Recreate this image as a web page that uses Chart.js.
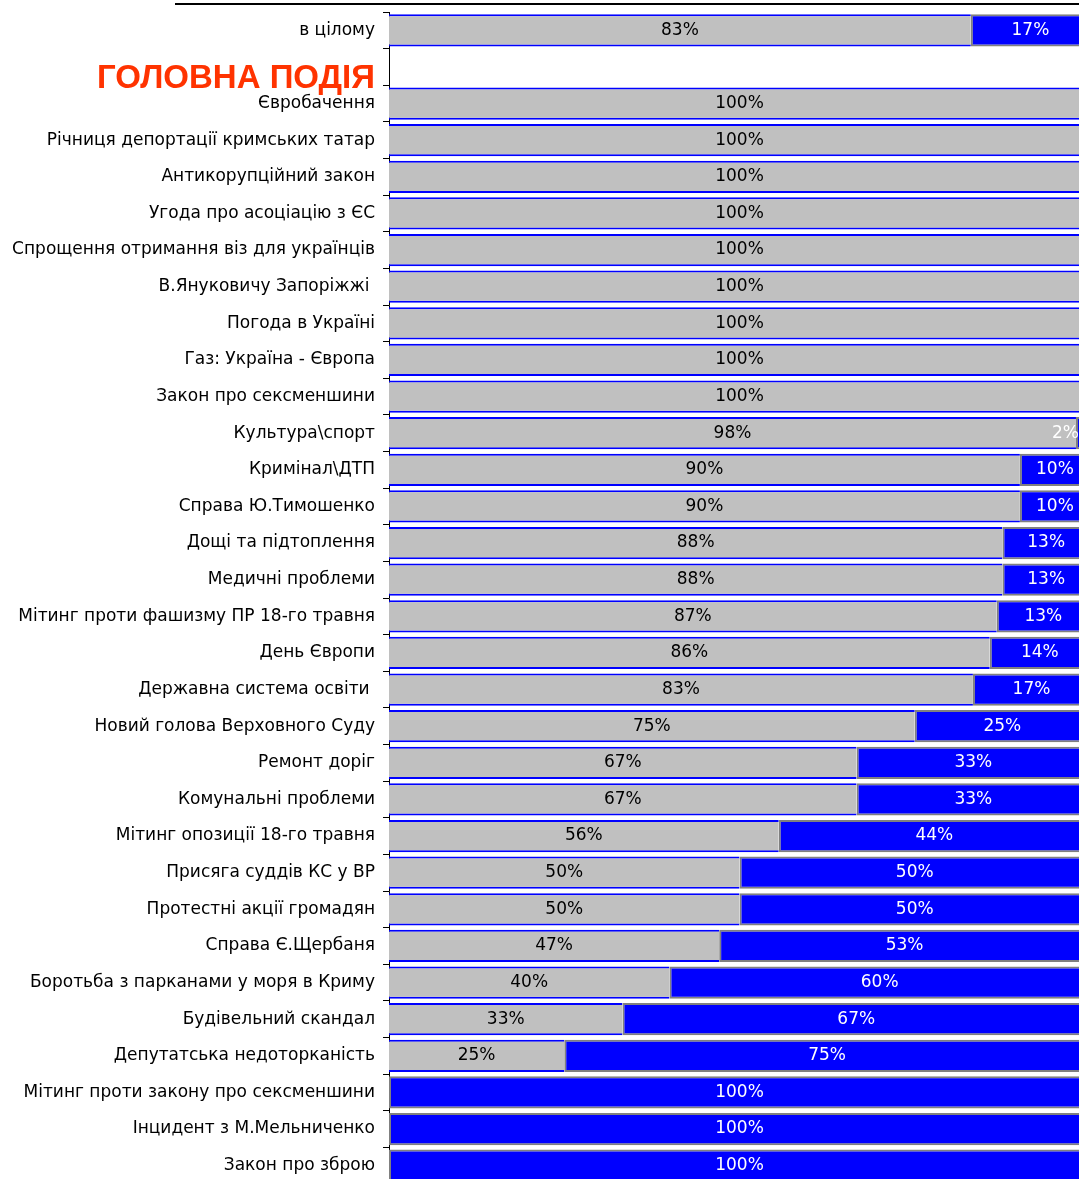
<!DOCTYPE html>
<html>
<head>
<meta charset="utf-8">
<script src="https://cdn.jsdelivr.net/npm/chart.js@4"></script>
<style>
  html, body { margin: 0; padding: 0; background: #fff; overflow: hidden; }
  #wrap { width: 1090px; height: 1184px; position: relative; }
</style>
</head>
<body>
<div id="wrap"><canvas id="fig_container"></canvas></div>
<script>
const categories = [
    "в цілому",
    "ГОЛОВНА ПОДІЯ",
    "Євробачення",
    "Річниця депортації кримських татар",
    "Антикорупційний закон",
    "Угода про асоціацію з ЄС",
    "Спрощення отримання віз для українців",
    "В.Януковичу Запоріжжі ",
    "Погода в Україні",
    "Газ: Україна - Європа",
    "Закон про сексменшини",
    "Культура\\спорт",
    "Кримінал\\ДТП",
    "Справа Ю.Тимошенко",
    "Дощі та підтоплення",
    "Медичні проблеми",
    "Мітинг проти фашизму ПР 18-го травня",
    "День Європи",
    "Державна система освіти ",
    "Новий голова Верховного Суду",
    "Ремонт доріг",
    "Комунальні проблеми",
    "Мітинг опозиції 18-го травня",
    "Присяга суддів КС у ВР",
    "Протестні акції громадян",
    "Справа Є.Щербаня",
    "Боротьба з парканами у моря в Криму",
    "Будівельний скандал",
    "Депутатська недоторканість",
    "Мітинг проти закону про сексменшини",
    "Інцидент з М.Мельниченко",
    "Закон про зброю"
];

const grayValues = [83, null, 100, 100, 100, 100, 100, 100, 100, 100, 100, 98, 90, 90, 87.5, 87.5,
    86.7, 85.7, 83.3, 75, 66.7, 66.7, 55.6, 50, 50, 47.1, 40, 33.3, 25, 0, 0, 0];
const blueValues = [17, null, 0, 0, 0, 0, 0, 0, 0, 0, 0, 2, 10, 10, 12.5, 12.5,
    13.3, 14.3, 16.7, 25, 33.3, 33.3, 44.4, 50, 50, 52.9, 60, 66.7, 75, 100, 100, 100];

const headerIndex = 1;
const labelFont = "'DejaVu Sans', sans-serif";

const decorations = {
    id: 'decorations',
    afterDraw(chart) {
        const ctx = chart.ctx;
        const y = chart.scales.y;
        ctx.save();
        // top rule
        ctx.fillStyle = '#000';
        ctx.fillRect(175, 3, chart.width, 2);
        // section header
        ctx.font = "bold 33px 'Liberation Sans', Arial, sans-serif";
        ctx.fillStyle = '#FF3300';
        ctx.textAlign = 'right';
        ctx.textBaseline = 'middle';
        ctx.fillText(categories[headerIndex], 375, y.getPixelForValue(headerIndex) + 12);
        ctx.restore();
    }
};

const barLabels = {
    id: 'barLabels',
    afterDatasetsDraw(chart) {
        const ctx = chart.ctx;
        const visibleRight = document.documentElement.clientWidth;
        ctx.save();
        ctx.font = "17px " + labelFont;
        ctx.textAlign = 'center';
        ctx.textBaseline = 'middle';
        chart.data.datasets.forEach((ds, di) => {
            const meta = chart.getDatasetMeta(di);
            meta.data.forEach((bar, i) => {
                const v = ds.data[i];
                if (!v) return;
                const text = Math.round(v) + '%';
                const w = ctx.measureText(text).width;
                let x = (bar.x + bar.base) / 2;
                x = Math.min(x, visibleRight - w / 2);
                ctx.fillStyle = di === 0 ? '#000' : '#fff';
                ctx.fillText(text, x, bar.y);
            });
        });
        ctx.restore();
    }
};

const make_chart = () => {
    const el = document.getElementById('fig_container').getContext('2d');
    new Chart(el, {
        type: 'bar',
        data: {
            labels: categories,
            datasets: [{
                data: grayValues,
                backgroundColor: '#C0C0C0',
                borderColor: '#0000FF',
                borderWidth: { top: 2, bottom: 2, left: 0, right: 0 },
                borderSkipped: false,
                categoryPercentage: 0.88,
                barPercentage: 1
            }, {
                data: blueValues,
                backgroundColor: '#0000FF',
                borderColor: '#808080',
                borderWidth: 2,
                borderSkipped: false,
                categoryPercentage: 0.88,
                barPercentage: 1
            }]
        },
        options: {
            indexAxis: 'y',
            responsive: true,
            maintainAspectRatio: false,
            animation: false,
            layout: { padding: { top: 12, left: 0, right: 0, bottom: 0 } },
            plugins: {
                legend: { display: false },
                tooltip: { enabled: false }
            },
            scales: {
                x: {
                    stacked: true,
                    min: 0,
                    max: 100,
                    display: false
                },
                y: {
                    stacked: true,
                    afterFit: (scale) => {
                        scale.width = 389;
                        scale.paddingTop = 0;
                        scale.paddingBottom = 0;
                    },
                    border: { display: true, color: '#000', width: 1 },
                    grid: {
                        offset: true,
                        drawOnChartArea: false,
                        drawTicks: true,
                        tickLength: 6,
                        color: '#000'
                    },
                    ticks: {
                        autoSkip: false,
                        padding: 8,
                        color: '#000',
                        font: { family: labelFont, size: 17 },
                        callback: (value, index) => index === headerIndex ? '' : categories[index]
                    }
                }
            }
        },
        plugins: [decorations, barLabels]
    });
}

make_chart();
</script>
</body>
</html>
